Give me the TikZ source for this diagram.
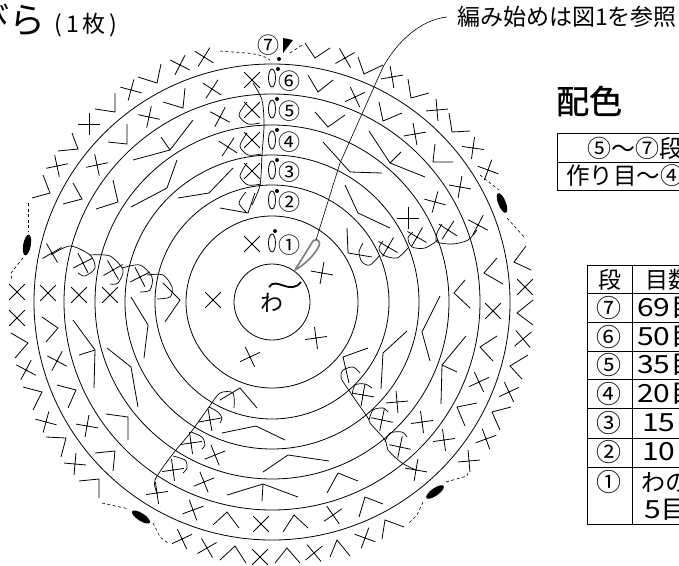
\documentclass[tikz,border=0pt]{standalone}
\usepackage{fontspec}
\setmainfont{Noto Sans CJK JP}
\newcommand{\sz}[1]{\fontsize{#1}{#1}\selectfont}
\tikzset{
    x=1pt, y=-1pt,
    stitch/.style={line width=0.8pt, line join=miter},
    ring/.style={line width=0.8pt},
    hook/.style={line width=0.7pt, smooth},
    seam/.style={line width=0.6pt, dash pattern=on 3pt off 2.5pt},
    grid/.style={line width=0.9pt},
    count/.style={anchor=west, inner sep=0pt, transform shape, xscale=1.2},
    cross/.pic={\draw[stitch] (-11,0) -- (11,0) (0,-11) -- (0,11);}
}

\begin{document}
\begin{tikzpicture}
\useasboundingbox (0,0) rectangle (679,565);

\coordinate (O) at (272,302);

% Anillos
\foreach \r in {38,86,117,147,177,208,238} \draw[ring] (O) circle[radius=\r];

% Puntos bajos, fila por fila, de afuera hacia adentro
\foreach \x/\y/\r in {
    345/58/30, 392/77/10, 437/110/5, 473/148/-8, 488/170/-20, 525/287/45, 523/339/40,
    509/392/25, 486/439/20, 469/461/5, 365/538/-20, 182/539/25, 207/548/30, 260/557/45,
    314/553/40, 75/464/-5, 46/422/-15, 26/370/-28, 17/318/45, 17/292/45, 57/166/12,
    89/124/0, 131/90/-15, 180/65/-27, 204/57/-32,
    252/80/45, 212/89/-33, 149/117/-12, 97/165/12, 52/253/30, 48/293/45, 57/361/-28,
    87/426/-10, 157/493/8, 193/510/20, 261/524/45, 333/515/35, 355/97/25, 415/134/10,
    460/187/-10, 478/225/-28, 493/311/45, 479/382/25, 444/440/8, 416/470/-10,
    252/110/45, 220/117/-28, 83/263/27, 79/295/45, 173/470/8, 204/482/22, 422/422/8,
    400/447/-12, 435/202/-15, 448/230/-33,
    252/140/45, 228/147/-33, 113/270/30, 110/295/45, 191/443/8, 215/455/22, 382/420/-12,
    397/402/5, 408/218/0, 417/237/-30,
    252/171/45, 140/277/27, 210/420/10, 363/395/-10, 388/247/-30,
    252/244/45, 322/273/-10, 213/300/45, 250/357/25, 316/338/8
}{\pic[rotate=\r] at (\x,\y) {cross};}

% Aumentos: extremo, vertice, extremo
\foreach \ax/\ay/\bx/\by/\cx/\cy in {
    305/43/315/58/330/48, 358/57/364/74/383/65, 408/79/411/98/429/93, 449/113/452/132/470/131,
    526/246/514/262/531/270, 533/300/517/313/533/325, 528/355/510/366/522/379,
    511/407/492/412/500/430, 404/527/385/520/382/539, 330/557/337/540/350/556,
    220/560/235/546/246/563, 275/563/287/548/300/563, 79/481/99/479/99/498,
    46/437/66/438/61/457, 23/387/42/392/33/410, 11/333/28/343/15/358,
    32/198/50/193/43/175, 58/151/78/149/72/133, 95/109/115/112/115/93, 138/77/157/83/161/64,
    308/75/318/92/333/80, 379/102/383/121/402/113, 435/144/433/162/453/162,
    497/258/484/273/503/284, 497/336/480/347/493/361, 477/403/457/407/465/426,
    383/504/365/497/359/517, 308/528/294/515/283/532, 239/528/227/512/213/525,
    113/471/115/451/95/453, 68/408/76/390/57/385, 46/342/58/328/42/317,
    63/204/82/199/73/183, 108/142/127/144/127/124, 163/102/183/108/185/88,
    315/112/328/127/345/115, 470/308/454/293/465/280, 369/131/390/163/425/177,
    193/120/170/150/133/160, 96/209/118/202/113/180, 73/320/95/350/94/388,
    106/414/128/417/128/440, 227/495/263/484/298/497, 327/493/338/473/358/481,
    466/336/442/365/441/404,
    323/142/350/172/382/173, 131/207/167/188/177/160, 138/407/131/367/107/348,
    329/461/288/455/263/472, 430/361/422/332/440/296,
    178/198/209/193/233/168, 144/358/148/325/131/297, 285/440/256/426/222/433,
    381/389/383/353/407/331, 345/185/358/213/390/228,
    220/208/248/213/255/193, 165/322/180/300/163/283, 257/408/240/388/220/400,
    368/348/343/357/349/383, 347/228/348/253/372/257
}{\draw[stitch] (\ax,\ay) -- (\bx,\by) -- (\cx,\cy);}
\draw[stitch] (170,150) -- (161,137);
\draw[stitch] (95,350) -- (79,355);
\draw[stitch] (263,484) -- (262,501);
\draw[stitch] (442,365) -- (457,372);
\draw[stitch] (390,163) -- (401,152);

% Cadeneta de arranque de cada vuelta
\foreach \y/\cx/\cy in {78/278/69, 109/277/99, 140/277/130, 170/277/160, 200/277/191, 243/275/231} {
    \draw[stitch] (272,\y) ellipse[x radius=3.5, y radius=9];
    \fill (\cx,\cy) circle[radius=2];
}
\node (row6) at (289,81)  {\sz{22}⑥};
\node (row5) at (289,111) {\sz{22}⑤};
\node (row4) at (289,142) {\sz{22}④};
\node (row3) at (289,172) {\sz{22}③};
\node (row2) at (289,202) {\sz{22}②};
\node (row1) at (289,245) {\sz{22}①};
\node (row7) at (268,45)  {\sz{22}⑦};
\fill (279,59) circle[radius=2];
\fill (283,38) -- (293,40) -- (283,53) -- cycle;

% Cierres de vuelta
\draw[hook] plot coordinates {(253,83) (262,100) (264,125) (262,155) (260,185) (252,205)};
\draw[hook] plot coordinates {(247,102) (239,115) (248,124) (260,123)};
\draw[hook] plot coordinates {(247,133) (240,146) (248,155) (261,154)};
\draw[hook] plot coordinates {(247,163) (240,176) (248,185) (261,184)};
\draw[hook] plot coordinates {(246,192) (239,203) (247,213)};

\draw[hook] plot coordinates {(51,255) (70,246) (90,255) (95,268) (85,276) (78,273)};
\draw[hook] plot coordinates {(90,255) (110,256) (123,270) (118,283) (110,284)};
\draw[hook] plot coordinates {(122,268) (140,265) (152,277) (150,290) (140,292)};
\draw[hook] plot coordinates {(147,275) (163,275) (172,287) (170,297) (157,299)};

\draw[hook] plot coordinates {(157,493) (155,480) (172,455) (191,432) (209,407) (220,393) (233,393) (234,408)};
\draw[hook] plot coordinates {(173,456) (185,460) (187,468) (183,473)};
\draw[hook] plot coordinates {(191,432) (202,437) (205,445) (202,449)};
\draw[hook] plot coordinates {(209,407) (218,412) (222,418) (220,423)};

\draw[hook] plot coordinates {(416,470) (402,463) (388,450) (385,440) (370,423) (368,418) (352,395) (342,380) (341,375) (343,370) (353,367) (360,373)};
\draw[hook] plot coordinates {(385,442) (390,433) (402,432) (407,437)};
\draw[hook] plot coordinates {(369,420) (373,410) (383,408) (388,412)};
\draw[hook] plot coordinates {(352,395) (355,385) (365,384) (372,388)};

\draw[hook] plot coordinates {(477,230) (468,240) (453,244) (437,242) (437,233) (442,224)};
\draw[hook] plot coordinates {(438,240) (425,248) (412,247) (408,238) (413,232)};
\draw[hook] plot coordinates {(408,248) (397,258) (383,255) (379,248) (383,241)};
\draw[hook] plot coordinates {(380,255) (370,265) (362,262) (359,252) (363,243)};

% Marcas y costuras
\fill[rotate around={-10:(27,245)}] (27,245) ellipse[x radius=3.8, y radius=10.5];
\fill[rotate around={22:(502,203)}] (502,203) ellipse[x radius=3.8, y radius=10.5];
\fill[rotate around={57:(141,517)}] (141,517) ellipse[x radius=3.8, y radius=10.5];
\fill[rotate around={-55:(435,492)}] (435,492) ellipse[x radius=3.8, y radius=10.5];

\draw[seam] (220,51) .. controls (240,53) and (260,52) .. (270,60);
\draw[seam] (290,53) -- (302,45);
\draw[seam] (28,203) -- (28,232);
\draw[seam] (23,258) -- (11,273) -- (12,281);
\draw[seam] (480,175) -- (499,190);
\draw[seam] (507,218) -- (525,238);
\draw[seam] (102,503) -- (129,509);
\draw[seam] (153,523) -- (160,537) -- (168,543);
\draw[seam] (468,473) -- (467,476) -- (446,482);
\draw[seam] (423,502) -- (417,515) -- (409,523);

% Aguja y centro
\coordinate (needleTop) at (316,240);
\coordinate (noteEnd) at (447,17);
\draw[gray, line width=1.7pt, line join=round] (295,270) -- (313,241) .. controls (317,238) and (321,241) .. (319,246) .. controls (314,256) and (304,265) .. cycle;
\node[inner sep=0pt] (center) at (272,303) {\sz{23}わ};
\draw[line width=1.8pt] (269,287) .. controls (276,276) and (290,296) .. (301,282);

% Titulo y notas
\node[anchor=east, inner sep=0pt] (title) at (46,20) {\sz{36}びら};
\node[inner sep=0pt] (titleCount) at (86,25) {\sz{23}(\,1\,枚\,)};
\node[anchor=west, inner sep=0pt] (startNote) at (457,17) {\sz{23}編み始めは図1を参照};
\draw[line width=0.6pt] (needleTop) -- (340,163) -- (383,67) .. controls (397,42) and (420,20) .. (noteEnd);

\node[anchor=west, inner sep=0pt] (colourTitle) at (556,101) {\sz{33}\addfontfeature{FakeBold=1}配色};

% Tabla de colores
\draw[grid] (679,133) -- (557,133) -- (557,190) -- (679,190) (557,162) -- (679,162);
\node[anchor=west, inner sep=0pt] (colourA) at (587,148) {\sz{24}⑤〜⑦段};
\node[anchor=west, inner sep=0pt] (colourB) at (566,176) {\sz{23.5}作り目〜④段};

% Tabla de vueltas
\draw[grid] (679,265) -- (587,265) -- (587,524) -- (679,524) (632,265) -- (632,524);
\foreach \y in {293,322,351,379,408,438,467} \draw[grid] (587,\y) -- (679,\y);
\node (headRow) at (610,280) {\sz{23}段};
\node[anchor=west, inner sep=0pt] (headCount) at (645,280) {\sz{23}目数};
\node (cell7) at (609,308) {\sz{25}⑦};
\node (cell6) at (609,337) {\sz{25}⑥};
\node (cell5) at (609,365) {\sz{25}⑤};
\node (cell4) at (609,394) {\sz{25}④};
\node (cell3) at (609,423) {\sz{25}③};
\node (cell2) at (609,452) {\sz{25}②};
\node (cell1) at (609,482) {\sz{25}①};
\node[count] (count7) at (637,308) {\sz{25}69目};
\node[count] (count6) at (637,337) {\sz{25}50目};
\node[count] (count5) at (637,365) {\sz{25}35目};
\node[count] (count4) at (637,394) {\sz{25}20目};
\node[count] (count3) at (642,423) {\sz{25}15目};
\node[count] (count2) at (642,452) {\sz{25}10目};
\node[anchor=west, inner sep=0pt] (count1) at (641,482) {\sz{24}わの};
\node[count] (count1b) at (644,510) {\sz{25}5目};
\end{tikzpicture}
\end{document}
